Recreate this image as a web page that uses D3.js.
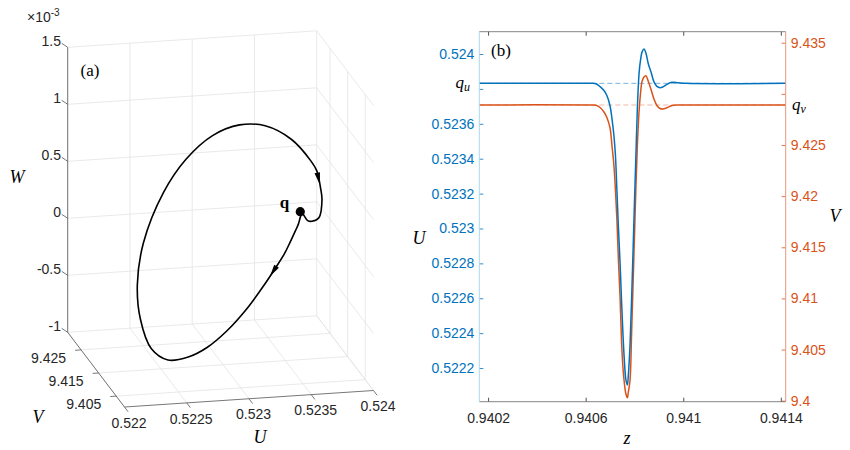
<!DOCTYPE html>
<html>
<head>
<meta charset="utf-8">
<script src="https://cdn.jsdelivr.net/npm/d3@7"></script>
<style>
  body { margin: 0; background: #fff; }
  text { font-family: "Liberation Sans", Arial, sans-serif; }
  .tex { font-family: "Liberation Serif", "Times New Roman", serif; }
</style>
</head>
<body>
<svg id="chart"></svg>
<script>
// orbit samples: z, U(z), V(z), W(z) (W in units of 1e-3)
const zVals = [0.940164, 0.940618, 0.940642, 0.940659, 0.940675, 0.940687, 0.9407, 0.940708, 0.940716, 0.940722,
  0.940728, 0.940734, 0.940741, 0.940747, 0.940753, 0.940759, 0.940765, 0.940771, 0.940775, 0.940782,
  0.940788, 0.940794, 0.9408, 0.940806, 0.940812, 0.940819, 0.940825, 0.940831, 0.940839, 0.940847,
  0.940857, 0.940868, 0.94088, 0.940892, 0.940905, 0.940917, 0.940933, 0.940954, 0.940978, 0.941011, 0.94142];
const uVals = [0.523832, 0.523832, 0.52383, 0.523813, 0.523791, 0.523762, 0.523702, 0.523628, 0.52353, 0.523421,
  0.523221, 0.523014, 0.522802, 0.52259, 0.52239, 0.522235, 0.522132, 0.522103, 0.52216, 0.522338,
  0.522579, 0.52286, 0.523146, 0.523421, 0.523691, 0.523891, 0.523966, 0.524011, 0.524029, 0.524006,
  0.523943, 0.523897, 0.52384, 0.523815, 0.523807, 0.523812, 0.523826, 0.523838, 0.523836, 0.523832, 0.523832];
const vVals = [9.428909, 9.428909, 9.42888, 9.428665, 9.428225, 9.427687, 9.426661, 9.424901, 9.422946, 9.420599,
  9.417764, 9.413951, 9.410138, 9.405837, 9.403197, 9.401633, 9.400655, 9.400294, 9.400851, 9.402024,
  9.406326, 9.411116, 9.416004, 9.420892, 9.424999, 9.428323, 9.430082, 9.431207, 9.431647, 9.431774,
  9.431207, 9.430425, 9.429496, 9.42886, 9.428567, 9.428518, 9.428645, 9.42886, 9.428909, 9.428909, 9.428909];
const wVals = [0, 0, -0.01, -0.041, -0.092, -0.132, -0.214, -0.281, -0.354, -0.425,
  -0.592, -0.684, -0.736, -0.717, -0.675, -0.534, -0.243, 0.065, 0.418, 0.823,
  1.009, 1.099, 1.073, 0.946, 0.723, 0.456, 0.323, 0.15, 0.035, -0.124,
  -0.138, -0.113, -0.023, 0.002, 0.012, 0.01, 0.004, 0, 0, 0, 0];

// equilibrium q
const qu = 0.523832, qv = 9.428909, qw = 0;

// panel (a) ticks
const uTicks3 = [0.522, 0.5225, 0.523, 0.5235, 0.524];
const vTicks3 = [9.405, 9.415, 9.425];
const wTicks3 = [-1, -0.5, 0, 0.5, 1, 1.5];

// panel (b) ticks
const zTicks = [0.9402, 0.9406, 0.941, 0.9414];
const zTickLabels = ["0.9402", "0.9406", "0.941", "0.9414"];
const uTicks = [0.5222, 0.5224, 0.5226, 0.5228, 0.523, 0.5232, 0.5234, 0.5236, 0.5238, 0.524];
const uTickLabels = ["0.5222", "0.5224", "0.5226", "0.5228", "0.523", "0.5232", "0.5234", "0.5236", "", "0.524"];
const vTicks = [9.4, 9.405, 9.41, 9.415, 9.42, 9.425, 9.43, 9.435];
const vTickLabels = ["9.4", "9.405", "9.41", "9.415", "9.42", "9.425", "", "9.435"];

// where the direction arrows sit on the orbit (sample index, fraction to next)
const arrowSpots = [[26, 0.45], [8, 0.2]];

const blue = "#0072bd", orange = "#d95319", ink = "#262626", gridCol = "#e3e3e3";

const svg = d3.select("#chart").attr("width", 850).attr("height", 450);

// ================= panel (a): 3D orbit =================
const su = d3.scaleLinear().domain([0.522, 0.524]).range([0, 1]);
const sv = d3.scaleLinear().domain([9.4003, 9.4326]).range([0, 1]);
const sw = d3.scaleLinear().domain([-1, 1.5]).range([0, 1]);
const O = [124.5, 407], EU = [249, -16.5], EV = [-56.8, -74.7], EW = -285;
function P(a, b, c) {
  return [O[0] + a * EU[0] + b * EV[0], O[1] + a * EU[1] + b * EV[1] + c * EW];
}
function proj(U, V, W) { return P(su(U), sv(V), sw(W)); }

const ga = svg.append("g");
function seg(g, p, q, col, w) {
  g.append("line")
    .attr("x1", p[0]).attr("y1", p[1])
    .attr("x2", q[0]).attr("y2", q[1])
    .attr("stroke", col).attr("stroke-width", w);
}

// grid on back wall, right wall and floor
uTicks3.forEach(t => {
  seg(ga, P(su(t), 1, 0), P(su(t), 1, 1), gridCol, 0.8);
  seg(ga, P(su(t), 0, 0), P(su(t), 1, 0), gridCol, 0.8);
});
wTicks3.forEach(t => {
  seg(ga, P(0, 1, sw(t)), P(1, 1, sw(t)), gridCol, 0.8);
  seg(ga, P(1, 1, sw(t)), P(1, 0, sw(t)), gridCol, 0.8);
});
vTicks3.forEach(t => {
  seg(ga, P(1, sv(t), 0), P(1, sv(t), 1), gridCol, 0.8);
  seg(ga, P(0, sv(t), 0), P(1, sv(t), 0), gridCol, 0.8);
});

// axis lines
seg(ga, P(0, 0, 0), P(1, 0, 0), "#555", 0.8);
seg(ga, P(0, 0, 0), P(0, 1, 0), "#555", 0.8);
seg(ga, P(0, 1, 0), P(0, 1, 1), "#555", 0.8);

// U ticks and labels
uTicks3.forEach(t => {
  const p = P(su(t), 0, 0);
  seg(ga, p, [p[0] + 3.6, p[1] + 4.8], "#555", 0.8);
  ga.append("text").attr("x", p[0] + 4.5).attr("y", p[1] + 15.8).attr("dy", "0.35em")
    .attr("text-anchor", "middle").attr("font-size", 14).attr("fill", ink).text(t);
});
// V ticks and labels
vTicks3.forEach(t => {
  const p = P(0, sv(t), 0);
  seg(ga, p, [p[0] - 6, p[1] + 0.4], "#555", 0.8);
  ga.append("text").attr("x", p[0] - 15).attr("y", p[1] + 8).attr("dy", "0.35em")
    .attr("text-anchor", "end").attr("font-size", 14).attr("fill", ink).text(t);
});
// W ticks and labels
wTicks3.forEach(t => {
  const p = P(0, 1, sw(t));
  seg(ga, p, [p[0] - 6, p[1] - 4], "#555", 0.8);
  ga.append("text").attr("x", 61).attr("y", p[1] - 6.5).attr("dy", "0.35em")
    .attr("text-anchor", "end").attr("font-size", 14).attr("fill", ink).text(t);
});

ga.append("text").attr("x", 27).attr("y", 21.5).attr("font-size", 14).attr("fill", ink)
  .text("×10").append("tspan").attr("dy", -6).attr("font-size", 10).text("-3");

ga.append("text").attr("class", "tex").attr("x", 17).attr("y", 177).attr("dy", "0.35em")
  .attr("text-anchor", "middle").attr("font-size", 18).attr("font-style", "italic").text("W");
ga.append("text").attr("class", "tex").attr("x", 38).attr("y", 417).attr("dy", "0.35em")
  .attr("text-anchor", "middle").attr("font-size", 18).attr("font-style", "italic").text("V");
ga.append("text").attr("class", "tex").attr("x", 260).attr("y", 437).attr("dy", "0.35em")
  .attr("text-anchor", "middle").attr("font-size", 18).attr("font-style", "italic").text("U");
ga.append("text").attr("class", "tex").attr("x", 90).attr("y", 70).attr("dy", "0.35em")
  .attr("text-anchor", "middle").attr("font-size", 17).text("(a)");

// orbit
const pts = zVals.map((z, i) => proj(uVals[i], vVals[i], wVals[i]));
ga.append("path")
  .attr("d", d3.line().curve(d3.curveCatmullRom.alpha(0.5))(pts))
  .attr("fill", "none").attr("stroke", "#000").attr("stroke-width", 1.6);

arrowSpots.forEach(([i, t]) => {
  const a = pts[i], b = pts[i + 1];
  const dx = b[0] - a[0], dy = b[1] - a[1], L = Math.hypot(dx, dy);
  const ux = dx / L, uy = dy / L;
  const cx = a[0] + dx * t, cy = a[1] + dy * t;
  const tip = [cx + ux * 6, cy + uy * 6];
  const bl = [cx - ux * 6 - uy * 2.8, cy - uy * 6 + ux * 2.8];
  const br = [cx - ux * 6 + uy * 2.8, cy - uy * 6 - ux * 2.8];
  ga.append("path").attr("d", `M${tip}L${bl}L${br}Z`).attr("fill", "#000");
});

const qp = proj(qu, qv, qw);
ga.append("circle").attr("cx", qp[0] - 2).attr("cy", qp[1]).attr("r", 4.6).attr("fill", "#000");
ga.append("text").attr("class", "tex").attr("x", 284.5).attr("y", 207.5)
  .attr("text-anchor", "middle").attr("font-size", 17).attr("font-weight", "bold").text("q");

// ================= panel (b): U and V against z =================
const bx0 = 479.3, bx1 = 785.7, by0 = 31.7, by1 = 401.7;
const x = d3.scaleLinear().domain([0.940164, 0.94142]).range([bx0, bx1]);
const yU = d3.scaleLinear().domain([0.522007, 0.524128]).range([by1, by0]);
const yV = d3.scaleLinear().domain([9.399902, 9.436077]).range([by1, by0]);

const gb = svg.append("g");

// dashed reference levels
gb.append("line").attr("x1", bx0).attr("x2", bx1).attr("y1", yU(qu)).attr("y2", yU(qu))
  .attr("stroke", "#7db3dd").attr("stroke-width", 1).attr("stroke-dasharray", "5,3");
gb.append("line").attr("x1", bx0).attr("x2", bx1).attr("y1", yV(qv)).attr("y2", yV(qv))
  .attr("stroke", "#f2b8a2").attr("stroke-width", 1).attr("stroke-dasharray", "5,3");

const lineV = d3.line().x((d, i) => x(zVals[i])).y(d => yV(d)).curve(d3.curveCatmullRom.alpha(0.5));
const lineU = d3.line().x((d, i) => x(zVals[i])).y(d => yU(d)).curve(d3.curveCatmullRom.alpha(0.5));
gb.append("path").attr("d", lineV(vVals)).attr("fill", "none").attr("stroke", orange).attr("stroke-width", 1.5);
gb.append("path").attr("d", lineU(uVals)).attr("fill", "none").attr("stroke", blue).attr("stroke-width", 1.5);

function styleAxis(g, col) {
  g.select(".domain").remove();
  g.selectAll(".tick line").attr("stroke", col).attr("stroke-width", 0.8);
  g.selectAll(".tick text").attr("fill", col).attr("font-size", 14)
    .attr("font-family", "'Liberation Sans', Arial, sans-serif");
}

const axB = gb.append("g").attr("transform", `translate(0,${by1})`)
  .call(d3.axisBottom(x).tickValues(zTicks).tickSize(-4).tickPadding(11)
    .tickFormat((d, i) => zTickLabels[i]));
styleAxis(axB, ink);
const axT = gb.append("g").attr("transform", `translate(0,${by0})`)
  .call(d3.axisTop(x).tickValues(zTicks).tickSize(-4).tickFormat(""));
styleAxis(axT, ink);
const axL = gb.append("g").attr("transform", `translate(${bx0},0)`)
  .call(d3.axisLeft(yU).tickValues(uTicks).tickSize(-4).tickPadding(5)
    .tickFormat((d, i) => uTickLabels[i]));
styleAxis(axL, blue);
const axR = gb.append("g").attr("transform", `translate(${bx1},0)`)
  .call(d3.axisRight(yV).tickValues(vTicks).tickSize(-4).tickPadding(5)
    .tickFormat((d, i) => vTickLabels[i]));
styleAxis(axR, orange);

// box edges
gb.append("line").attr("x1", bx0).attr("x2", bx1).attr("y1", by0).attr("y2", by0).attr("stroke", "#666").attr("stroke-width", 0.8);
gb.append("line").attr("x1", bx0).attr("x2", bx1).attr("y1", by1).attr("y2", by1).attr("stroke", "#666").attr("stroke-width", 0.8);
gb.append("line").attr("x1", bx0).attr("x2", bx0).attr("y1", by0).attr("y2", by1).attr("stroke", "#a9d9ee").attr("stroke-width", 1);
gb.append("line").attr("x1", bx1).attr("x2", bx1).attr("y1", by0).attr("y2", by1).attr("stroke", "#e8957c").attr("stroke-width", 1);

// q labels
const qU = gb.append("text").attr("class", "tex").attr("x", 470).attr("y", yU(qu) + 5)
  .attr("text-anchor", "end").attr("font-size", 17).attr("font-style", "italic").attr("fill", "#000");
qU.append("tspan").text("q");
qU.append("tspan").attr("dy", 3).attr("font-size", 12).text("u");
const qV = gb.append("text").attr("class", "tex").attr("x", 792).attr("y", yV(qv) + 5)
  .attr("font-size", 17).attr("font-style", "italic").attr("fill", "#000");
qV.append("tspan").text("q");
qV.append("tspan").attr("dy", 3).attr("font-size", 12).text("v");

gb.append("text").attr("class", "tex").attr("x", 501).attr("y", 50).attr("dy", "0.35em")
  .attr("text-anchor", "middle").attr("font-size", 17).text("(b)");
gb.append("text").attr("class", "tex").attr("x", 627).attr("y", 438).attr("dy", "0.35em")
  .attr("text-anchor", "middle").attr("font-size", 18).attr("font-style", "italic").text("z");
gb.append("text").attr("class", "tex").attr("x", 419).attr("y", 238).attr("dy", "0.35em")
  .attr("text-anchor", "middle").attr("font-size", 18).attr("font-style", "italic").text("U");
gb.append("text").attr("class", "tex").attr("x", 835).attr("y", 216).attr("dy", "0.35em")
  .attr("text-anchor", "middle").attr("font-size", 18).attr("font-style", "italic").text("V");
</script>
</body>
</html>
